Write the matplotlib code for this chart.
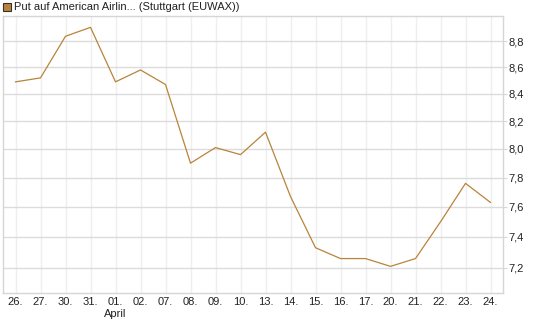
import matplotlib
matplotlib.use("Agg")
import matplotlib.pyplot as plt
from matplotlib.ticker import FixedLocator, NullLocator, FixedFormatter

DAYS = ["26.", "27.", "30.", "31.", "01.", "02.", "07.", "08.", "09.", "10.",
        "13.", "14.", "15.", "16.", "17.", "20.", "21.", "22.", "23.", "24."]
PRICES = [8.49, 8.52, 8.84, 8.91, 8.49, 8.58, 8.47, 7.90, 8.01, 7.96,
          8.12, 7.67, 7.33, 7.26, 7.26, 7.21, 7.26, 7.50, 7.76, 7.63]
Y_TICKS = [7.2, 7.4, 7.6, 7.8, 8.0, 8.2, 8.4, 8.6, 8.8]
TITLE = "Put auf American Airlin... (Stuttgart (EUWAX))"
MONTH_LABEL = "April"

plt.rcParams['font.family'] = ['Liberation Sans', 'DejaVu Sans']

fig = plt.figure(figsize=(5.45, 3.27), dpi=100)
ax = fig.add_axes([3 / 545, (327 - 293.3) / 327, 500 / 545, 277.3 / 327])

x = list(range(len(DAYS)))
ax.plot(x, PRICES, color="#b8843a", linewidth=0.9)

ax.set_yscale("log")
ax.set_ylim(7.04, 9.0)
ax.set_xlim(-0.5, len(DAYS) - 0.5)

ax.yaxis.set_major_locator(FixedLocator(Y_TICKS))
ax.yaxis.set_major_formatter(FixedFormatter([f"{v:.1f}".replace(".", ",") for v in Y_TICKS]))
ax.yaxis.set_minor_locator(NullLocator())
ax.yaxis.tick_right()
ax.tick_params(axis="y", length=3, color="#d8d8d8", labelsize=8, pad=1, labelcolor="#222222")

ax.set_xticks(x)
ax.set_xticklabels(DAYS)
ax.tick_params(axis="x", length=0, labelsize=8, pad=3, labelcolor="#222222")

ax.grid(axis="y", color="#dcdcdc", linewidth=1.0)
ax.grid(axis="x", color="#efefef", linewidth=1.0)
ax.set_axisbelow(True)
for s in ax.spines.values():
    s.set_color("#d6d6d6")
    s.set_linewidth(1.0)

ax.text(4, 1 - 314 / 327, MONTH_LABEL, transform=ax.get_xaxis_transform(),
        ha="center", va="center", fontsize=8, color="#222222")
ax.texts[-1].set_transform(
    matplotlib.transforms.blended_transform_factory(ax.transData, fig.transFigure))

fig.patches.append(plt.Rectangle((3 / 545, 1 - 11 / 327), 8 / 545, 8 / 327,
                                 transform=fig.transFigure, facecolor="#b8843a",
                                 edgecolor="#333333", linewidth=0.8))
fig.text(14 / 545, 1 - 6.5 / 327, TITLE, ha="left", va="center", fontsize=8, color="#222222")

fig.savefig("out.png", dpi=100)
